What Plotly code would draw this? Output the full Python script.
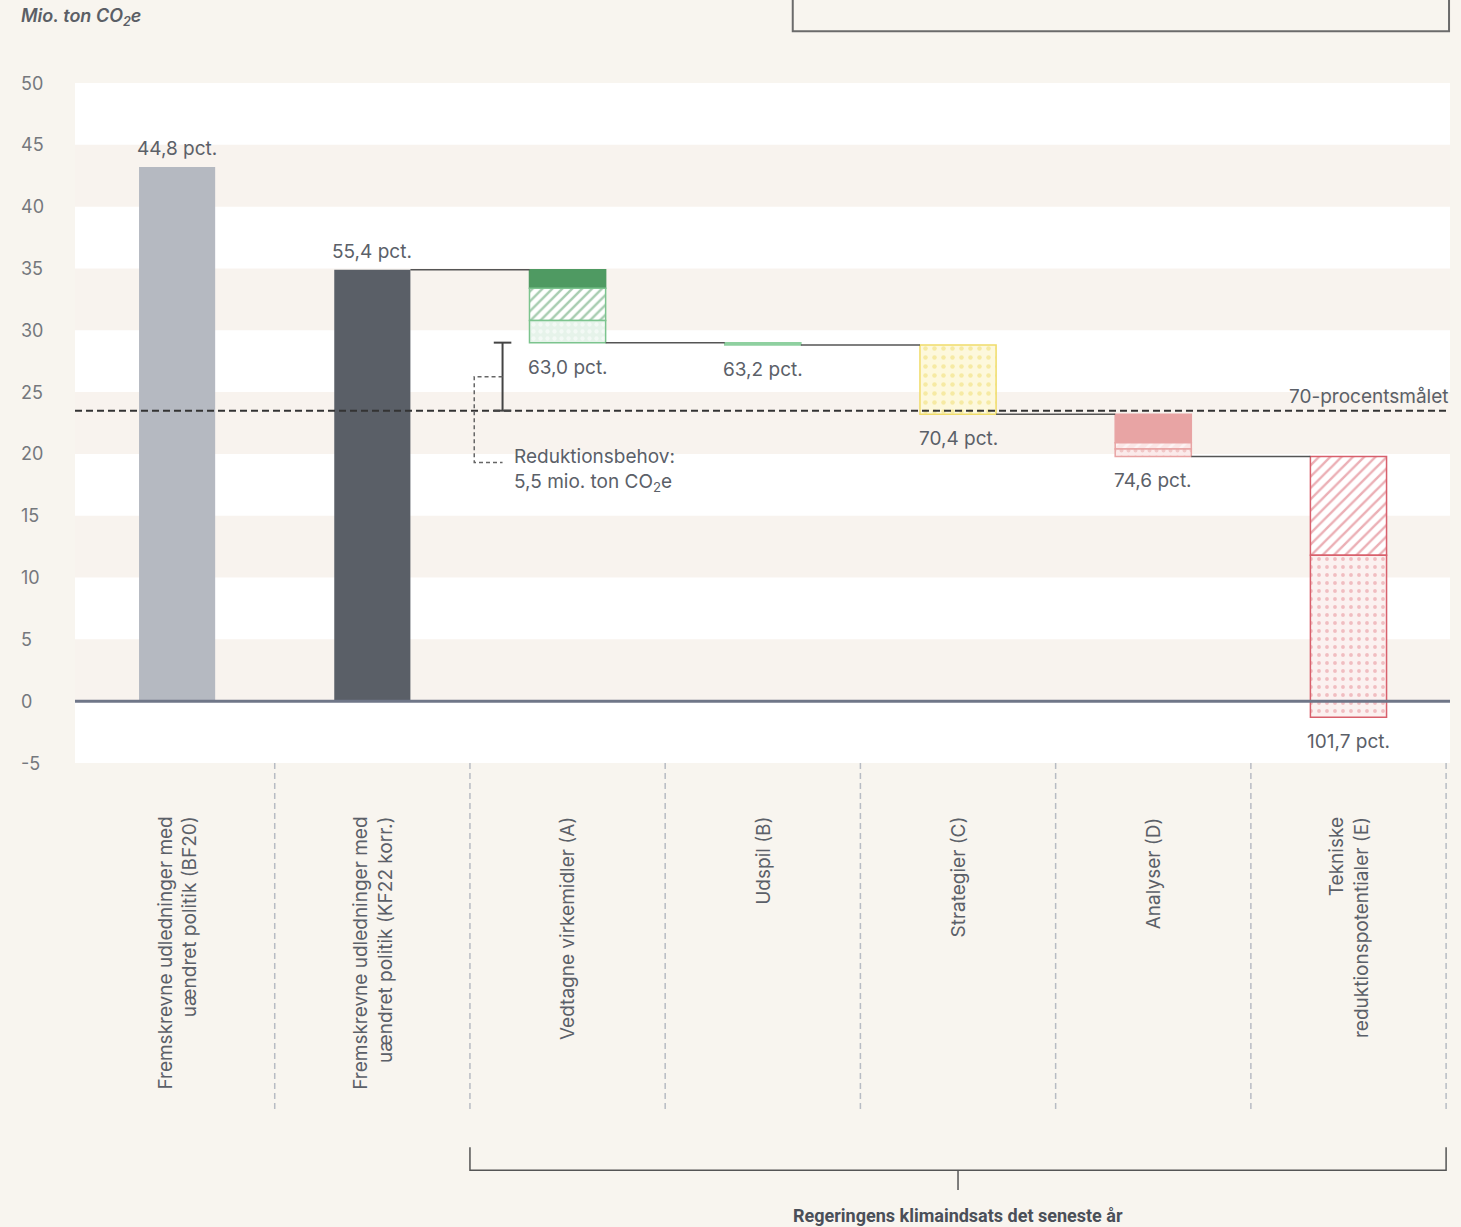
import plotly.graph_objects as go

# Kategorier
kategorier = [
    "Fremskrevne udledninger med<br>uændret politik (BF20)",
    "Fremskrevne udledninger med<br>uændret politik (KF22 korr.)",
    "Vedtagne virkemidler (A)",
    "Udspil (B)",
    "Strategier (C)",
    "Analyser (D)",
    "Tekniske<br>reduktionspotentialer (E)",
]

# Udledninger, mio. ton CO2e
udledning_bf20 = 43.2
udledning_kf22 = 34.9

# Reduktioner pr. kategori, oppefra og ned
vedtagne = [1.5, 2.6, 1.8]      # fuld, skraveret, prikket
udspil = [0.2]
strategier = [5.6]
analyser = [2.3, 0.5, 0.6]      # fuld, skraveret, prikket
tekniske = [8.0, 13.1]          # skraveret, prikket

pct_labels = ["44,8 pct.", "55,4 pct.", "63,0 pct.", "63,2 pct.",
              "70,4 pct.", "74,6 pct.", "101,7 pct."]

maal_70 = 23.5
y_ticks = [50, 45, 40, 35, 30, 25, 20, 15, 10, 5, 0, -5]

# Farver / stilarter
FONT = "Inter, Noto Sans, sans-serif"
TXT = "#5b6068"
PAPER = "#f8f5ef"
GREEN = "#4f9a62"
YELLOW = "#f0dc6a"
PINK = "#e8a4a4"
RED = "#d8606c"
W = 0.39  # bar bredde


def stil(bg, line, fg=None, shape="", size=8, solid=0.3):
    d = dict(color=bg, line=dict(color=line, width=1.5))
    if shape:
        d["pattern"] = dict(shape=shape, fgcolor=fg, bgcolor=bg, size=size,
                            solidity=solid, fillmode="overlay")
    return d


segmenter = [
    (2, vedtagne, [stil(GREEN, GREEN),
                   stil("#ffffff", "#7cc48e", GREEN, "/", 7, 0.35),
                   stil("#e6f3ea", "#7cc48e", "#ffffff", ".", 7, 0.3)]),
    (3, udspil, [stil("#8fd0a0", "#8fd0a0")]),
    (4, strategier, [stil("#fdf8dc", YELLOW, YELLOW, ".", 9, 0.2)]),
    (5, analyser, [stil(PINK, PINK),
                   stil("#fbe6e6", PINK, "#ffffff", "/", 8, 0.35),
                   stil("#fbeaea", PINK, PINK, ".", 7, 0.25)]),
    (6, tekniske, [stil("#ffffff", RED, RED, "/", 8, 0.3),
                   stil("#fbf1f0", RED, "#e58a92", ".", 8, 0.18)]),
]

fig = go.Figure()

# Grå søjler
fig.add_trace(go.Bar(x=[0], y=[udledning_bf20], width=W, marker_color="#b5b9c1",
                     marker_line_width=0))
fig.add_trace(go.Bar(x=[1], y=[udledning_kf22], width=W, marker_color="#5a5f67",
                     marker_line_width=0))

niveauer = [udledning_bf20, udledning_kf22]
niveau = udledning_kf22
forbind_x, forbind_y = [], []
prev_x = 1
for i, vals, stile in segmenter:
    forbind_x += [prev_x + W / 2, i - W / 2, None]
    forbind_y += [niveau, niveau, None]
    top = niveau
    for h, s in zip(vals, stile):
        base = top - h
        fig.add_trace(go.Bar(x=[i], y=[h], base=[base], width=W, marker=s))
        top = base
    niveau = top
    niveauer.append(niveau)
    prev_x = i

fig.add_trace(go.Scatter(x=forbind_x, y=forbind_y, mode="lines",
                         line=dict(color="#555555", width=1.5)))

annotations = []
shapes = []

# Procent-labels
for i, (lab, lvl) in enumerate(zip(pct_labels, niveauer)):
    if i < 2:
        annotations.append(dict(x=i, y=lvl, text=lab, showarrow=False, yanchor="bottom",
                                yshift=5, font=dict(size=19, color=TXT)))
    else:
        annotations.append(dict(x=i, y=lvl, text=lab, showarrow=False, yanchor="top",
                                yshift=-11, font=dict(size=19, color=TXT)))

# Baggrundsstriber
for lo in range(-5, 50, 10):
    shapes.append(dict(type="rect", xref="paper", x0=0, x1=1, y0=lo, y1=lo + 5,
                       fillcolor="#ffffff", line_width=0, layer="below"))

# 70-procentsmålet
shapes.append(dict(type="line", xref="paper", x0=0, x1=1, y0=maal_70, y1=maal_70,
                   line=dict(color="#333333", width=2, dash="7px,4px"), layer="above"))
annotations.append(dict(xref="paper", x=1, y=maal_70, xanchor="right", yanchor="bottom",
                        yshift=1, text="70-procentsmålet", showarrow=False,
                        font=dict(size=19, color=TXT)))

# Nullinje
shapes.append(dict(type="line", xref="paper", x0=0, x1=1, y0=0, y1=0,
                   line=dict(color="#6f7688", width=3), layer="above"))

# Reduktionsbehov
a_slut = niveauer[2]
behov = a_slut - maal_70
xi = 2 - 0.333
xb = 2 - 0.478
midt = (a_slut + maal_70) / 2
bund = 19.3
shapes.append(dict(type="line", x0=xi, x1=xi, y0=maal_70, y1=a_slut,
                   line=dict(color="#444444", width=2)))
for yy in (maal_70, a_slut):
    shapes.append(dict(type="line", x0=xi - 0.045, x1=xi + 0.045, y0=yy, y1=yy,
                       line=dict(color="#444444", width=2)))
shapes.append(dict(type="path",
                   path=f"M {xi},{midt} L {xb},{midt} L {xb},{bund} L {xi},{bund}",
                   line=dict(color="#666666", width=1.5, dash="4px,3px")))
annotations.append(dict(x=2 - 0.287, y=bund, xanchor="left", yanchor="middle", yshift=-7,
                        align="left", showarrow=False,
                        text=f"Reduktionsbehov:<br>{behov:.1f}".replace(".", ",")
                             + " mio. ton CO<sub>2</sub>e",
                        font=dict(size=19, color=TXT)))

# Kategorilabels og skillelinjer
for i, kat in enumerate(kategorier):
    annotations.append(dict(x=i, y=0, yref="paper", yanchor="top", yshift=-52,
                            textangle=-90, align="right", text=kat, showarrow=False,
                            font=dict(size=19, color=TXT)))
    shapes.append(dict(type="line", x0=i + 0.5, x1=i + 0.5, yref="paper", y0=0, y1=-0.513,
                       line=dict(color="#b8bcc4", width=1.5, dash="6px,4px")))

# Y-akse labels
for v in y_ticks:
    annotations.append(dict(xref="paper", x=-0.041, y=v, xanchor="left", yanchor="middle",
                            text=str(v), showarrow=False, font=dict(size=18, color="#75787d")))
annotations.append(dict(xref="paper", yref="paper", x=-0.041, y=1.097, xanchor="left",
                        yanchor="middle", showarrow=False,
                        text="<i>Mio. ton CO<sub>2</sub>e</i>",
                        font=dict(size=18, color="#5b5f66", weight=600)))

# Klammer i bunden
shapes.append(dict(type="path", yref="paper",
                   path="M 1.5,-0.565 L 1.5,-0.599 L 6.5,-0.599 L 6.5,-0.565",
                   line=dict(color="#555555", width=1.5)))
shapes.append(dict(type="line", yref="paper", x0=4, x1=4, y0=-0.599, y1=-0.628,
                   line=dict(color="#555555", width=1.5)))
annotations.append(dict(x=4, yref="paper", y=-0.665, yanchor="middle", showarrow=False,
                        text="<b>Regeringens klimaindsats det seneste år</b>",
                        font=dict(size=18, color="#4a4f58", family="Roboto")))

# Ramme øverst (legende, beskåret)
shapes.append(dict(type="path", xref="paper", yref="paper",
                   path="M 0.522,1.2 L 0.522,1.076 L 0.9993,1.076 L 0.9993,1.2",
                   line=dict(color="#6b6b6b", width=2)))

fig.update_layout(
    width=1461, height=1227,
    margin=dict(l=75, r=11, t=83, b=464),
    paper_bgcolor=PAPER, plot_bgcolor="#f8f3ee",
    barmode="overlay", showlegend=False,
    font=dict(family=FONT, size=18, color=TXT),
    xaxis=dict(range=[-0.523, 6.52], showgrid=False, zeroline=False,
               showticklabels=False, fixedrange=True),
    yaxis=dict(range=[-5, 50], showgrid=False, zeroline=False,
               showticklabels=False, fixedrange=True),
    shapes=shapes, annotations=annotations,
)

fig.write_html("out.html", config={"displayModeBar": False},
               post_script="document.body.style.margin='0';")
